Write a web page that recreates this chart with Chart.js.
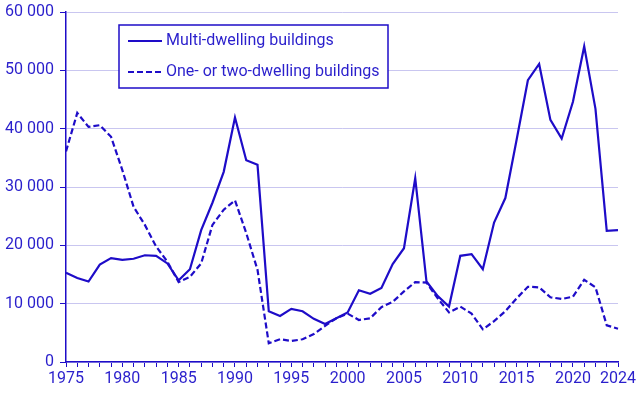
<!DOCTYPE html>
<html>
<head>
<meta charset="utf-8">
<script src="https://cdn.jsdelivr.net/npm/chart.js@4/dist/chart.umd.min.js"></script>
<style>
  html, body { margin: 0; padding: 0; background: #fff; }
  #wrap { width: 644px; height: 393px; position: relative; }
</style>
</head>
<body>
<div id="wrap"><canvas id="chart"></canvas></div>
<script>
    const years = [];
    for (let y = 1975; y <= 2024; y++) years.push(y);

    const multiDwelling = [
        15300, 14400, 13800, 16700, 17800, 17500, 17700, 18300, 18200, 16900,
        14000, 15900, 22600, 27300, 32600, 41900, 34600, 33800, 8700, 7900,
        9100, 8700, 7400, 6500, 7500, 8500, 12300, 11700, 12700, 16800,
        19500, 31500, 13800, 11300, 9500, 18200, 18500, 15900, 23900, 28100,
        38100, 48300, 51100, 41500, 38300, 44600, 54100, 43400, 22500, 22600
    ];

    const oneOrTwoDwelling = [
        36100, 42700, 40300, 40600, 38600, 32900, 26600, 23500, 19800, 17200,
        13700, 14600, 16900, 23500, 26100, 27700, 22100, 15800, 3200, 3900,
        3600, 3900, 4800, 6200, 7500, 8300, 7200, 7500, 9400, 10300,
        12100, 13700, 13600, 10900, 8500, 9500, 8300, 5600, 7000, 8700,
        10900, 12900, 12800, 11100, 10800, 11200, 14100, 12800, 6300, 5700
    ];

    const seriesNames = ["Multi-dwelling buildings", "One- or two-dwelling buildings"];

    const blue = "#1e0cc8";
    const textBlue = "#2a1fcc";
    const gridColor = "#c9c6f0";
    const font = { family: "Roboto", size: 16 };

    function formatThousands(v) {
        return String(v).replace(/\B(?=(\d{3})+(?!\d))/g, " ");
    }

    // legend box drawn inside the plot, like the original
    const boxLegend = {
        id: "boxLegend",
        afterDraw(chart) {
            const { ctx, chartArea } = chart;
            const x0 = chartArea.left + 53, y0 = chartArea.top + 13;
            ctx.save();
            ctx.fillStyle = "#fff";
            ctx.fillRect(x0, y0, 269, 63);
            ctx.strokeStyle = blue;
            ctx.lineWidth = 1.5;
            ctx.strokeRect(x0, y0, 269, 63);
            ctx.font = "16px Roboto";
            ctx.textBaseline = "middle";
            chart.data.datasets.forEach((ds, i) => {
                const ly = y0 + 16 + i * 31;
                ctx.beginPath();
                ctx.setLineDash(ds.borderDash || []);
                ctx.lineWidth = 2.2;
                ctx.strokeStyle = ds.borderColor;
                ctx.moveTo(x0 + 9, ly);
                ctx.lineTo(x0 + 43, ly);
                ctx.stroke();
                ctx.setLineDash([]);
                ctx.fillStyle = textBlue;
                ctx.fillText(ds.label, x0 + 47, ly);
            });
            ctx.restore();
        }
    };

    new Chart(document.getElementById("chart"), {
        type: "line",
        data: {
            labels: years,
            datasets: [
                {
                    label: seriesNames[0],
                    data: multiDwelling,
                    borderColor: blue,
                    borderWidth: 2.2,
                    pointRadius: 0,
                    tension: 0,
                    fill: false,
                },
                {
                    label: seriesNames[1],
                    data: oneOrTwoDwelling,
                    borderColor: blue,
                    borderWidth: 2.2,
                    borderDash: [6, 3],
                    pointRadius: 0,
                    tension: 0,
                    fill: false,
                },
            ],
        },
        options: {
            responsive: true,
            maintainAspectRatio: false,
            animation: false,
            layout: { padding: { top: 12, right: 26, left: 0, bottom: 0 } },
            plugins: {
                legend: { display: false },
                tooltip: { enabled: false },
            },
            scales: {
                x: {
                    offset: false,
                    grid: {
                        drawOnChartArea: false,
                        drawTicks: true,
                        tickLength: 5,
                        color: blue,
                        tickColor: blue,
                    },
                    border: { display: true, color: blue, width: 1.5 },
                    ticks: {
                        autoSkip: false,
                        maxRotation: 0,
                        color: textBlue,
                        font: font,
                        padding: 2,
                        callback: function (val, idx) {
                            let yr = years[idx];
                            return (yr % 5 === 0 || yr === 2024) ? String(yr) : "";
                        },
                    },
                    afterFit(axis) {
                        axis.height = 31;
                        axis.paddingLeft = 0;
                        axis.paddingRight = 0;
                    },
                },
                y: {
                    min: 0,
                    max: 60000,
                    ticks: {
                        stepSize: 10000,
                        color: textBlue,
                        font: font,
                        padding: 6,
                        callback: (v) => formatThousands(v),
                    },
                    grid: {
                        color: gridColor,
                        lineWidth: 1,
                        tickLength: 6,
                        tickColor: blue,
                    },
                    border: { display: true, color: blue, width: 1.5 },
                    afterFit(axis) {
                        axis.width = 66;
                        axis.paddingTop = 0;
                        axis.paddingBottom = 0;
                    },
                },
            },
        },
        plugins: [boxLegend],
    });
</script>
</body>
</html>
